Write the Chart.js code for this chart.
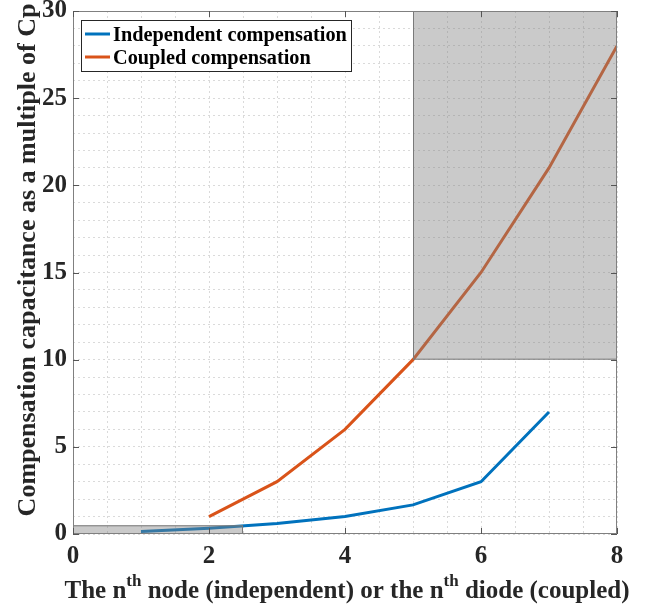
<!DOCTYPE html>
<html>
<head>
<meta charset="utf-8">
<script src="https://cdn.jsdelivr.net/npm/chart.js@4/dist/chart.umd.min.js"></script>
<style>
  html, body { margin: 0; padding: 0; background: #fff; }
  #wrap { width: 650px; height: 610px; }
</style>
</head>
<body>
<div id="wrap"><canvas id="chart" width="650" height="610"></canvas></div>
<script>
// data
const independentN = [1, 2, 3, 4, 5, 6, 7];
const independentC = [0.14, 0.33, 0.6, 1.0, 1.67, 3.0, 7.0];
const coupledN = [2, 3, 4, 5, 6, 7, 8];
const coupledC = [1, 3, 6, 10, 15, 21, 28];
const seriesNames = ['Independent compensation', 'Coupled compensation'];
const seriesColors = ['#0072BD', '#D95319'];
const xTicks = [0, 2, 4, 6, 8];
const yTicks = [0, 5, 10, 15, 20, 25, 30];
// shaded boxes: [x0, x1, y0, y1]
const shadeBoxes = [[0, 2.5, 0, 0.5], [5, 8, 10, 30]];

const yTitle = 'Compensation capacitance as a multiple of Cp';
const xTitleParts = [['The n', false], ['th', true], [' node (independent) or the n', false], ['th', true], [' diode (coupled)', false]];

const serif = '"Liberation Serif", "Times New Roman", serif';
const textColor = '#262626';

function toPoints(xs, ys) {
    return xs.map((x, i) => ({ x: x, y: ys[i] }));
}

const decor = {
    id: 'decor',
    afterDatasetsDraw(chart) {
        const ctx = chart.ctx;
        const xs = chart.scales.x, ys = chart.scales.y;
        ctx.save();
        shadeBoxes.forEach(b => {
            const l = xs.getPixelForValue(b[0]), r = xs.getPixelForValue(b[1]);
            const t = ys.getPixelForValue(b[3]), bt = ys.getPixelForValue(b[2]);
            ctx.fillStyle = 'rgba(128,128,128,0.42)';
            ctx.fillRect(l, t, r - l, bt - t);
            ctx.strokeStyle = '#7a7a7a';
            ctx.lineWidth = 1;
            ctx.strokeRect(l + 0.5, t + 0.5, r - l - 1, bt - t - 1);
        });
        ctx.restore();
    },
    afterDraw(chart) {
        const ctx = chart.ctx;
        const a = chart.chartArea;
        const xs = chart.scales.x, ys = chart.scales.y;
        ctx.save();
        // frame
        ctx.strokeStyle = '#808080';
        ctx.lineWidth = 1;
        ctx.strokeRect(a.left + 0.5, a.top + 0.5, a.right - a.left - 1, a.bottom - a.top - 1);
        // inner tick marks on all four sides
        ctx.strokeStyle = '#555';
        ctx.beginPath();
        xTicks.forEach(v => {
            const px = Math.round(xs.getPixelForValue(v)) + 0.5;
            ctx.moveTo(px, a.bottom); ctx.lineTo(px, a.bottom - 6);
            ctx.moveTo(px, a.top); ctx.lineTo(px, a.top + 6);
        });
        yTicks.forEach(v => {
            const py = Math.round(ys.getPixelForValue(v)) + 0.5;
            ctx.moveTo(a.left, py); ctx.lineTo(a.left + 6, py);
            ctx.moveTo(a.right, py); ctx.lineTo(a.right - 6, py);
        });
        ctx.stroke();

        // legend
        ctx.fillStyle = '#fff';
        ctx.fillRect(81, 20, 270, 51);
        ctx.strokeStyle = '#262626';
        ctx.strokeRect(81.5, 20.5, 270, 51);
        ctx.font = 'bold 20.3px ' + serif;
        ctx.textBaseline = 'alphabetic';
        ctx.textAlign = 'left';
        seriesNames.forEach((name, i) => {
            const y = 34 + i * 23;
            ctx.strokeStyle = seriesColors[i];
            ctx.lineWidth = 3;
            ctx.beginPath();
            ctx.moveTo(85, y); ctx.lineTo(110, y);
            ctx.stroke();
            ctx.fillStyle = '#000';
            ctx.fillText(name, 113, y + 7);
        });

        // y title
        ctx.fillStyle = textColor;
        ctx.font = 'bold 26px ' + serif;
        ctx.save();
        ctx.translate(35, 260);
        ctx.rotate(-Math.PI / 2);
        ctx.textAlign = 'center';
        ctx.fillText(yTitle, 0, 0);
        ctx.restore();

        // x title with superscripts
        const big = 'bold 25px ' + serif, small = 'bold 17px ' + serif;
        let total = 0;
        xTitleParts.forEach(p => { ctx.font = p[1] ? small : big; total += ctx.measureText(p[0]).width; });
        let x = 347 - total / 2;
        ctx.textAlign = 'left';
        xTitleParts.forEach(p => {
            ctx.font = p[1] ? small : big;
            ctx.fillText(p[0], x, p[1] ? 586 : 598);
            x += ctx.measureText(p[0]).width;
        });
        ctx.restore();
    }
};

new Chart(document.getElementById('chart'), {
    type: 'line',
    data: {
        datasets: [
            {
                label: seriesNames[0],
                data: toPoints(independentN, independentC),
                borderColor: seriesColors[0],
                borderWidth: 3,
                pointRadius: 0,
                tension: 0
            },
            {
                label: seriesNames[1],
                data: toPoints(coupledN, coupledC),
                borderColor: seriesColors[1],
                borderWidth: 3,
                pointRadius: 0,
                tension: 0
            }
        ]
    },
    options: {
        responsive: false,
        animation: false,
        layout: { padding: { left: 0, right: 33, top: 11, bottom: 0 } },
        plugins: { legend: { display: false }, tooltip: { enabled: false } },
        scales: {
            x: {
                type: 'linear',
                min: 0, max: 8,
                afterFit: s => { s.height = 76; s.paddingLeft = 0; s.paddingRight = 0; },
                ticks: {
                    stepSize: 0.5,
                    autoSkip: false,
                    maxRotation: 0,
                    padding: 8,
                    color: textColor,
                    font: { family: serif, size: 25, weight: 'bold' },
                    callback: v => xTicks.includes(v) ? String(v) : ''
                },
                grid: { color: '#dadada', drawTicks: false, lineWidth: 1 },
                border: { display: false, dash: [2, 3] }
            },
            y: {
                min: 0, max: 30,
                afterFit: s => { s.width = 73; s.paddingTop = 0; s.paddingBottom = 0; },
                ticks: {
                    stepSize: 1,
                    autoSkip: false,
                    padding: 6,
                    color: textColor,
                    font: { family: serif, size: 25, weight: 'bold' },
                    callback: v => yTicks.includes(v) ? String(v) : ''
                },
                grid: { color: '#dadada', drawTicks: false, lineWidth: 1 },
                border: { display: false, dash: [2, 3] }
            }
        }
    },
    plugins: [decor]
});
</script>
</body>
</html>
